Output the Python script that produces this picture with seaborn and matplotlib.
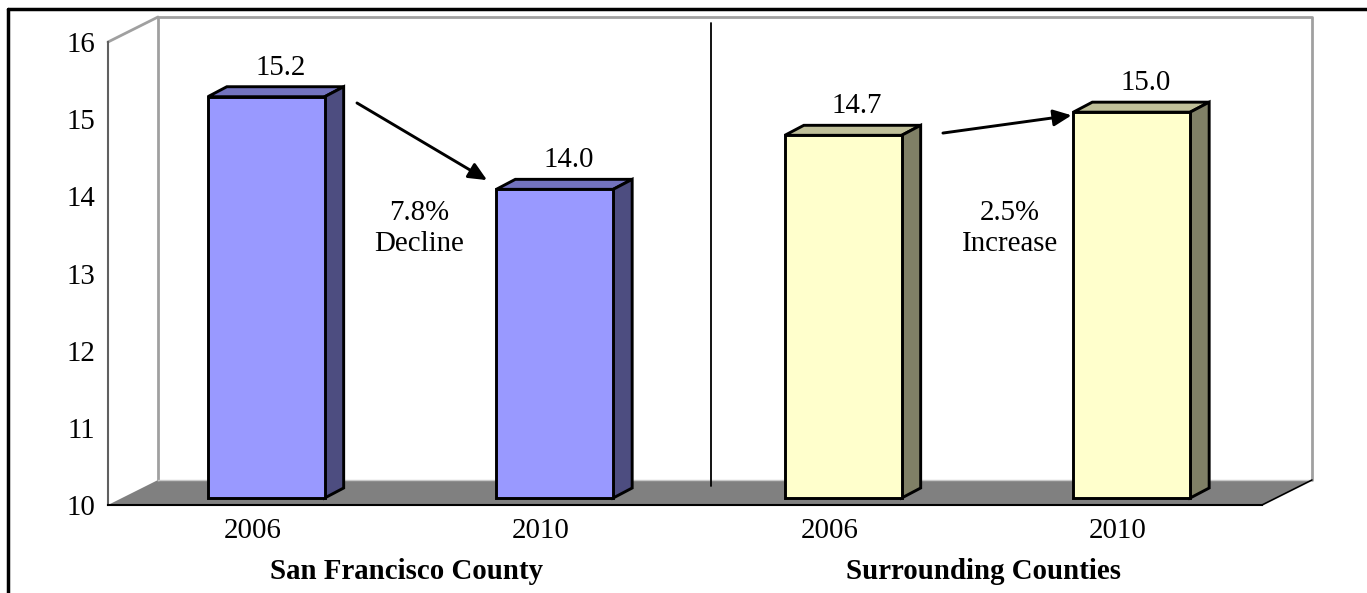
import matplotlib
matplotlib.use("Agg")
import matplotlib.pyplot as plt
from matplotlib.patches import Polygon
from matplotlib.lines import Line2D
import seaborn as sns
import pandas as pd

# ---------------- data ----------------
regions = ["San Francisco County", "San Francisco County",
           "Surrounding Counties", "Surrounding Counties"]
years = ["2006", "2010", "2006", "2010"]
values = [15.2, 14.0, 14.7, 15.0]
group_names = ["San Francisco County", "Surrounding Counties"]
change_labels = ["7.8%\nDecline", "2.5%\nIncrease"]
y_ticks = [10, 11, 12, 13, 14, 15, 16]

front_colors = {"San Francisco County": "#9999FF", "Surrounding Counties": "#FFFFCC"}
top_colors = {"San Francisco County": "#7373BF", "Surrounding Counties": "#BFBF99"}
side_colors = {"San Francisco County": "#4D4D80", "Surrounding Counties": "#808066"}

df = pd.DataFrame({"region": regions, "year": years, "value": values})
df["key"] = [f"{r}|{y}" for r, y in zip(regions, years)]

# ---------------- figure ----------------
sns.set_style("white")
plt.rcParams["font.family"] = ["Liberation Serif", "DejaVu Serif"]
plt.rcParams["text.color"] = "black"
plt.rcParams["xtick.labelcolor"] = "black"
plt.rcParams["ytick.labelcolor"] = "black"
FS = 20.8

DPI = 100
W, H = 1367, 593
fig = plt.figure(figsize=(W / DPI, H / DPI), dpi=DPI)
ax_l, ax_r, ax_b, ax_t = 108, 1262, 505, 42
ax = fig.add_axes([ax_l / W, (H - ax_b) / H, (ax_r - ax_l) / W, (ax_b - ax_t) / H])

sns.barplot(data=df, x="key", y="value", hue="region", palette=front_colors,
            saturation=1, dodge=False, width=0.405, errorbar=None, legend=False, ax=ax,
            edgecolor="black", linewidth=2.1, zorder=5)

ax.set_xlim(-0.5, 3.5)
ax.set_ylim(10, 16)

# pixel -> data unit conversions
ux = (ax_r - ax_l) / 4.0
uy = (ax_b - ax_t) / 6.0


def off(x, y, dxp, dyp):
    return (x + dxp / ux, y + dyp / uy)


DEPTH = (50, 25)      # full floor depth in px
F0 = (14, 7)          # bar front depth
F1 = (33, 17)         # bar back depth
x0, x1, y0, y1 = -0.5, 3.5, 10, 16
wall_c = "#A0A0A0"

# floor
floor = Polygon([off(x0, y0, 0, 0), off(x1, y0, 0, 0), off(x1, y0, *DEPTH), off(x0, y0, *DEPTH)],
                closed=True, facecolor="#808080", edgecolor="none", clip_on=False, zorder=1)
ax.add_patch(floor)
# back wall edges
bw = [off(x0, y0, *DEPTH), off(x0, y1, *DEPTH), off(x1, y1, *DEPTH), off(x1, y0, *DEPTH)]
ax.add_line(Line2D([p[0] for p in bw], [p[1] for p in bw], color=wall_c, lw=2,
                   clip_on=False, zorder=2))
fb = [off(x0, y0, *DEPTH), off(x1, y0, *DEPTH)]
ax.add_line(Line2D([p[0] for p in fb], [p[1] for p in fb], color="#C8C8C8", lw=1,
                   clip_on=False, zorder=2))
# left wall top edge
lt = [off(x0, y1, 0, 0), off(x0, y1, *DEPTH)]
ax.add_line(Line2D([p[0] for p in lt], [p[1] for p in lt], color=wall_c, lw=2,
                   clip_on=False, zorder=2))
# floor right edge
fr = [off(x1, y0, 0, 0), off(x1, y0, *DEPTH)]
ax.add_line(Line2D([p[0] for p in fr], [p[1] for p in fr], color="black", lw=1.2,
                   clip_on=False, zorder=2))

# divider between groups
dv = [off(1.5, y0, 26, 19), off(1.5, y1, 26, 19)]
ax.add_line(Line2D([p[0] for p in dv], [p[1] for p in dv], color="black", lw=1.3,
                   clip_on=False, zorder=3))

# 3D bars built from seaborn's bar patches
for patch, reg, v in zip(ax.patches[:len(values)], regions, values):
    bx = patch.get_x()
    bw_ = patch.get_width()
    l, r = bx, bx + bw_
    nx, ny = off(l, y0, *F0)
    patch.set_x(nx)
    patch.set_y(ny)
    patch.set_height(v - y0)
    patch.set_clip_on(False)
    patch.set_joinstyle("miter")
    top = Polygon([off(l, v, *F0), off(r, v, *F0), off(r, v, *F1), off(l, v, *F1)],
                  closed=True, facecolor=top_colors[reg], edgecolor="black", lw=2.1,
                  joinstyle="miter", clip_on=False, zorder=4)
    side = Polygon([off(r, y0, *F0), off(r, v, *F0), off(r, v, *F1), off(r, y0, *F1)],
                   closed=True, facecolor=side_colors[reg], edgecolor="black", lw=2.1,
                   joinstyle="miter", clip_on=False, zorder=4)
    ax.add_patch(top)
    ax.add_patch(side)
    ax.annotate(f"{v:.1f}", xy=(bx + bw_ / 2, v), xytext=(28, 29), textcoords="offset pixels",
                ha="center", va="baseline", fontsize=FS, zorder=6)

# arrows showing change
arrow_start = [(0.363, 15.21), (2.394, 14.82)]
arrow_end = [(0.814, 14.21), (2.840, 15.05)]
for s, e in zip(arrow_start, arrow_end):
    ax.annotate("", xy=e, xytext=s, xycoords="data", textcoords="data",
                arrowprops=dict(arrowstyle="-|>,head_length=0.55,head_width=0.25",
                                mutation_scale=20, color="black", lw=2.1,
                                shrinkA=0, shrinkB=0), zorder=7)

change_x = [0.578, 2.627]
for cx, lab in zip(change_x, change_labels):
    ax.text(cx, 13.58, lab, ha="center", va="center", fontsize=FS, linespacing=1.25, zorder=7)

# axes styling
for s in ["top", "right"]:
    ax.spines[s].set_visible(False)
ax.spines["left"].set_color("#606060")
ax.spines["left"].set_linewidth(1.5)
ax.spines["bottom"].set_color("black")
ax.spines["bottom"].set_linewidth(1.5)
ax.spines["bottom"].set_zorder(3)
ax.set_yticks(y_ticks)
ax.set_yticklabels([str(t) for t in y_ticks])
ax.tick_params(axis="y", length=5, width=1.2, color="#606060", pad=4, labelsize=FS)
ax.set_xticks(range(len(years)))
ax.set_xticklabels(years)
ax.tick_params(axis="x", length=0, pad=9, labelsize=FS)
ax.set_xlabel("")
ax.set_ylabel("")
ax.patch.set_alpha(0)

# group labels
for i, g in enumerate(group_names):
    ax.annotate(g, xy=(2 * i + 0.5, y0), xytext=(10, -66), textcoords="offset pixels",
                ha="center", va="center", fontsize=FS, fontweight="bold")

# outer frame (left and top)
fig.add_artist(Line2D([8 / W, 8 / W], [0, 1 - 9 / H], color="black", lw=2.5))
fig.add_artist(Line2D([8 / W, 1], [1 - 9 / H, 1 - 9 / H], color="black", lw=2.5))

fig.savefig("out.png", dpi=DPI)
